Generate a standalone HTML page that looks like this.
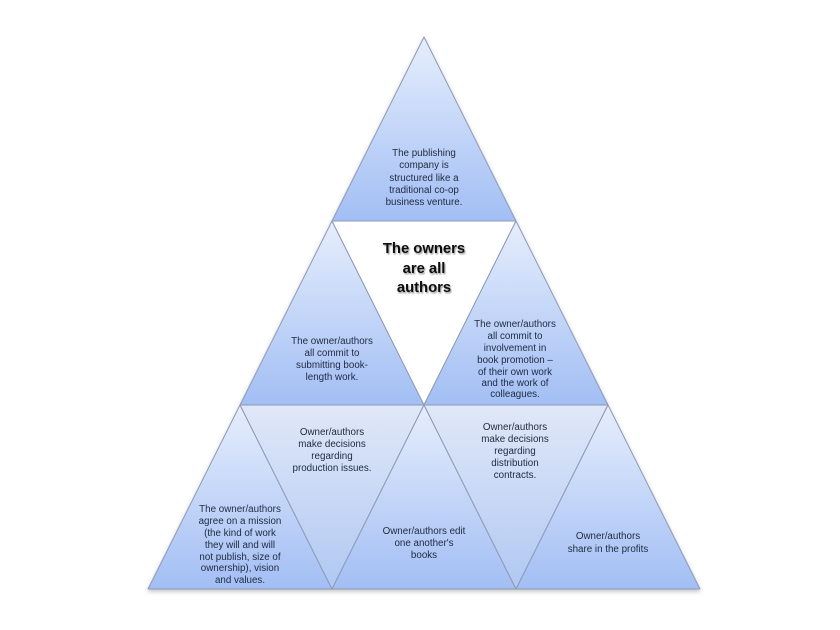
<!DOCTYPE html>
<html><head><meta charset="utf-8"><style>
html,body{margin:0;padding:0;background:#fff;}
svg{display:block;}
text{font-family:"Liberation Sans",sans-serif;fill:#1e2a40;font-size:9.8px;text-anchor:middle;}
.b{font-weight:bold;font-size:14.8px;fill:#111;}
</style></head><body>
<svg width="840" height="630" viewBox="0 0 840 630" xmlns="http://www.w3.org/2000/svg">
<defs>
<linearGradient id="g" x1="0" y1="0" x2="0" y2="1">
<stop offset="0" stop-color="#e6eefc"/>
<stop offset="1" stop-color="#a2bef4"/>
</linearGradient>
<linearGradient id="gi" x1="0" y1="0" x2="0" y2="1">
<stop offset="0" stop-color="#e0e8f8"/>
<stop offset="1" stop-color="#b0c8f3"/>
</linearGradient>
<filter id="sh" x="-10%" y="-10%" width="120%" height="130%">
<feGaussianBlur in="SourceAlpha" stdDeviation="2"/>
<feOffset dx="0" dy="2" result="o"/>
<feComponentTransfer><feFuncA type="linear" slope="0.25"/></feComponentTransfer>
<feMerge><feMergeNode/><feMergeNode in="SourceGraphic"/></feMerge>
</filter>
<filter id="ts"><feGaussianBlur in="SourceAlpha" stdDeviation="0.8"/><feOffset dx="1" dy="1.5"/><feComponentTransfer><feFuncA type="linear" slope="0.4"/></feComponentTransfer><feMerge><feMergeNode/><feMergeNode in="SourceGraphic"/></feMerge></filter>
</defs>
<g filter="url(#sh)" stroke="#8d9bb6" stroke-width="1" stroke-linejoin="round">
<polygon points="424,37 516,221 332,221" fill="url(#g)"/>
<polygon points="332,221 424,405 240,405" fill="url(#g)"/>
<polygon points="332,221 516,221 424,405" fill="#ffffff"/>
<polygon points="516,221 608,405 424,405" fill="url(#g)"/>
<polygon points="240,405 332,589 148,589" fill="url(#g)"/>
<polygon points="240,405 424,405 332,589" fill="url(#gi)"/>
<polygon points="424,405 516,589 332,589" fill="url(#g)"/>
<polygon points="424,405 608,405 516,589" fill="url(#gi)"/>
<polygon points="608,405 700,589 516,589" fill="url(#g)"/>
</g>
<text x="424" y="156">The publishing</text>
<text x="424" y="168">company is</text>
<text x="424" y="181">structured like a</text>
<text x="424" y="193">traditional co-op</text>
<text x="424" y="205">business venture.</text>
<g filter="url(#ts)">
<text class="b" x="424" y="253">The owners</text>
<text class="b" x="424" y="273">are all</text>
<text class="b" x="424" y="292">authors</text>
</g>
<text x="332" y="344">The owner/authors</text>
<text x="332" y="356">all commit to</text>
<text x="332" y="368">submitting book-</text>
<text x="332" y="380">length work.</text>
<text x="515" y="327">The owner/authors</text>
<text x="515" y="339">all commit to</text>
<text x="515" y="351">involvement in</text>
<text x="515" y="363">book promotion –</text>
<text x="515" y="375">of their own work</text>
<text x="515" y="386">and the work of</text>
<text x="515" y="397">colleagues.</text>
<text x="240" y="512">The owner/authors</text>
<text x="240" y="524">agree on a mission</text>
<text x="240" y="536">(the kind of work</text>
<text x="240" y="548">they will and will</text>
<text x="240" y="560">not publish, size of</text>
<text x="240" y="571">ownership), vision</text>
<text x="240" y="583">and values.</text>
<text x="332" y="435">Owner/authors</text>
<text x="332" y="447">make decisions</text>
<text x="332" y="459">regarding</text>
<text x="332" y="471">production issues.</text>
<text x="424" y="534">Owner/authors edit</text>
<text x="424" y="546">one another's</text>
<text x="424" y="558">books</text>
<text x="515" y="430">Owner/authors</text>
<text x="515" y="442">make decisions</text>
<text x="515" y="454">regarding</text>
<text x="515" y="466">distribution</text>
<text x="515" y="478">contracts.</text>
<text x="608" y="539">Owner/authors</text>
<text x="608" y="552">share in the profits</text>
</svg>
</body></html>
